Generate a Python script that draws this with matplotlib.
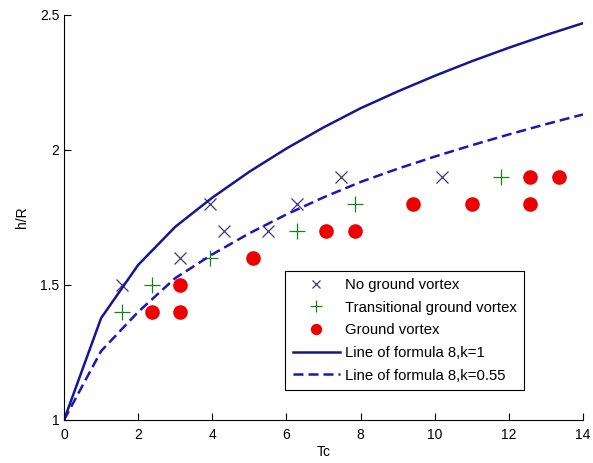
import matplotlib
matplotlib.use('Agg')
import matplotlib.pyplot as plt

# data
no_vortex_tc = [1.57, 3.14, 3.93, 4.32, 5.50, 6.28, 7.46, 10.21]
no_vortex_hr = [1.5, 1.6, 1.8, 1.7, 1.7, 1.8, 1.9, 1.9]

trans_tc = [1.57, 2.36, 3.93, 6.28, 7.85, 11.78]
trans_hr = [1.4, 1.5, 1.6, 1.7, 1.8, 1.9]

ground_tc = [2.36, 3.14, 3.14, 5.10, 7.07, 7.85, 9.42, 11.0, 12.57, 12.57, 13.35]
ground_hr = [1.4, 1.4, 1.5, 1.6, 1.7, 1.7, 1.8, 1.8, 1.8, 1.9, 1.9]

line_tc = [0, 1, 2, 3, 4, 5, 6, 7, 8, 9, 10, 11, 12, 13, 14]
line_k1 = [1.0, 1.377, 1.574, 1.715, 1.823, 1.919, 2.005, 2.083, 2.154, 2.216,
           2.274, 2.328, 2.378, 2.425, 2.469]
line_k055 = [1.0, 1.255, 1.40, 1.525, 1.613, 1.691, 1.761, 1.824, 1.881, 1.93,
             1.975, 2.017, 2.057, 2.095, 2.131]

plt.rcParams['font.family'] = ['Liberation Sans', 'DejaVu Sans']
plt.rcParams['font.size'] = 10

fig = plt.figure(figsize=(5.93, 4.63), dpi=100)
ax = fig.add_axes([0.108, 0.093, 0.875, 0.875])

ax.plot(no_vortex_tc, no_vortex_hr, 'x', color='#3a3a80', markersize=8,
        markeredgewidth=0.9, label='No ground vortex')
ax.plot(trans_tc, trans_hr, '+', color='#1a801a', markersize=11,
        markeredgewidth=0.9, label='Transitional ground vortex')
ax.plot(ground_tc, ground_hr, 'o', color='#ee0000', markersize=9.5,
        label='Ground vortex')
ax.plot(line_tc, line_k1, '-', color='#16168f', lw=1.8,
        label='Line of formula 8,k=1')
ax.plot(line_tc, line_k055, '--', color='#1818b8', lw=1.8, dashes=(4, 2),
        label='Line of formula 8,k=0.55')

ax.set_xlim(0, 14)
ax.set_ylim(1, 2.5)
ax.set_xticks(range(0, 15, 2))
ax.set_yticks([1, 1.5, 2, 2.5])
ax.set_yticklabels(['1', '1.5', '2', '2.5'])
ax.spines['top'].set_visible(False)
ax.spines['right'].set_visible(False)
ax.tick_params(direction='in', length=5, width=0.8)
ax.tick_params(axis='x', pad=6)
ax.set_xlabel('Tc', labelpad=2)
ax.set_ylabel('h/R', labelpad=8)

leg = ax.legend(loc='lower left', bbox_to_anchor=(0.426, 0.074), numpoints=1,
                handlelength=3.2, handletextpad=0.33, borderpad=0.5,
                labelspacing=0.58, fancybox=False, framealpha=1,
                edgecolor='black', fontsize=10.7, markerscale=0.75,
                borderaxespad=0)
leg.get_frame().set_linewidth(0.8)

fig.savefig('out.png', dpi=100)
